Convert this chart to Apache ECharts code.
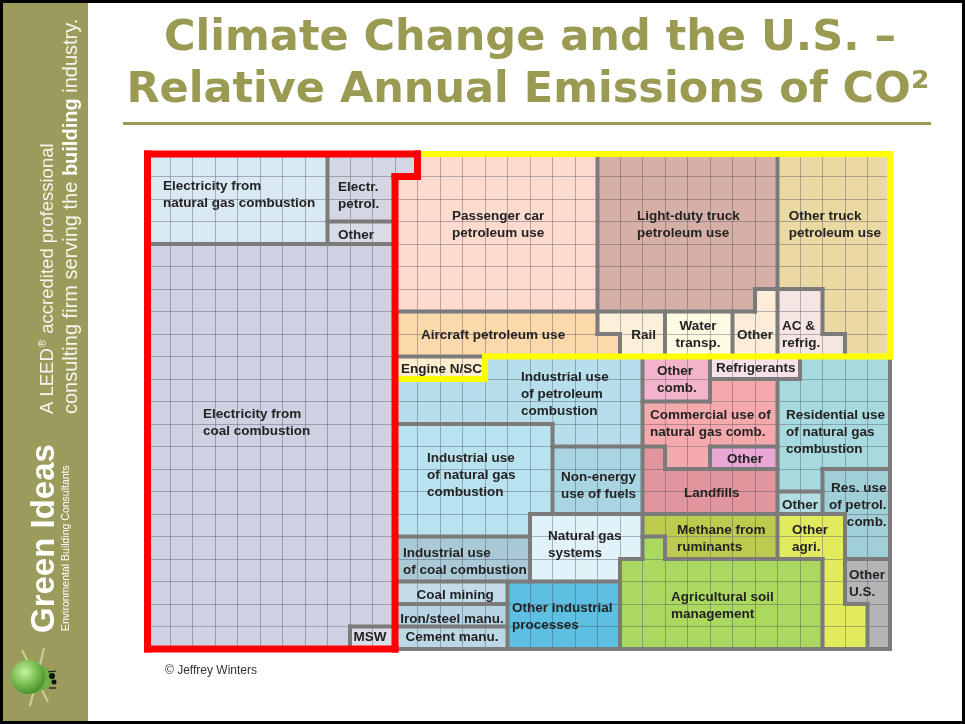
<!DOCTYPE html>
<html><head><meta charset="utf-8">
<script src="https://cdn.jsdelivr.net/npm/echarts@6/dist/echarts.min.js"></script>
<style>html,body{margin:0;padding:0;background:#fff}#c{width:965px;height:724px}</style>
</head><body><div id="c"></div>
<script>
// ---------- DATA ----------
const categories = [
  'Electricity from\nnatural gas combustion', 'Electr.\npetrol.', 'Other', 'Electricity from\ncoal combustion', 'MSW',
  'Passenger car\npetroleum use', 'Light-duty truck\npetroleum use', 'Other truck\npetroleum use', 'Aircraft petroleum use',
  'Engine N/SC', 'Rail', 'Water\ntransp.', 'Other', 'AC &\nrefrig.',
  'Industrial use\nof petroleum\ncombustion', 'Industrial use\nof natural gas\ncombustion', 'Non-energy\nuse of fuels',
  'Natural gas\nsystems', 'Industrial use\nof coal combustion', 'Coal mining', 'Iron/steel manu.', 'Cement manu.',
  'Other industrial\nprocesses', 'Other\ncomb.', 'Refrigerants', 'Commercial use of\nnatural gas comb.', 'Other',
  'Landfills', 'Residential use\nof natural gas\ncombustion', 'Other', 'Res. use\nof petrol.\ncomb.',
  'Methane from\nruminants', 'Other\nagri.', 'Agricultural soil\nmanagement', 'Other\nU.S.'
];
const groups = [
  'electricity','electricity','electricity','electricity','electricity',
  'transport','transport','transport','transport','transport','transport','transport','transport','transport',
  'other','other','other','other','other','other','other','other','other','other','other','other','other',
  'other','other','other','other','other','other','other','other'
];
// grid-cell blocks [col0,row0,col1,row1]; each cell = one equal unit of annual emissions
const cellBlocks = [
  [[0,0,8,4]],
  [[8,0,11,3],[11,0,12,1]],
  [[8,3,11,4]],
  [[0,4,11,21],[0,21,9,22]],
  [[9,21,11,22]],
  [[12,0,20,1],[11,1,20,7]],
  [[20,0,27,7],[27,0,28,6]],
  [[28,0,33,6],[30,6,33,8],[31,8,33,9]],
  [[11,7,20,9],[20,8,21,9]],
  [[11,9,15,10]],
  [[20,7,23,8],[21,8,23,9]],
  [[23,7,26,9]],
  [[27,6,28,7],[26,7,28,9]],
  [[28,6,30,9],[30,8,31,9]],
  [[11,10,15,12],[15,9,18,12],[18,9,22,13]],
  [[11,12,18,16],[11,16,17,17]],
  [[18,13,22,16]],
  [[17,16,22,18],[17,18,21,19]],
  [[11,17,17,19]],
  [[11,19,16,20]],
  [[11,20,16,21]],
  [[11,21,16,22]],
  [[16,19,21,22]],
  [[22,9,25,11]],
  [[25,9,29,10]],
  [[25,10,28,11],[22,11,28,13],[23,13,25,14]],
  [[25,13,28,14]],
  [[22,13,23,16],[23,14,28,16]],
  [[29,9,33,10],[28,10,33,14],[28,14,30,15]],
  [[28,15,30,16]],
  [[30,14,33,16],[31,16,33,18]],
  [[22,16,28,17],[23,17,28,18]],
  [[28,16,31,18],[30,18,31,20],[30,20,32,22]],
  [[22,17,23,18],[21,18,30,22]],
  [[31,18,33,20],[32,20,33,22]]
];
const GRID_COLS = 33, GRID_ROWS = 22;

// ---------- STYLE / LAYOUT ----------
const regionColors = [
  '#d9e9f3','#d3d7e3','#d8dce7','#ced1e1','#d8dce7',
  '#fcdacd','#d6b0a6','#ebd9a3','#fcd9ab','#fdeecf','#fdf0da','#fefbe3','#fcecd8','#f5e5e3',
  '#b6dfeb','#b9e2ef','#a9d5e3','#e1f2f8','#a8c9d5','#c3dcea','#b6d4e2','#bdd8e5','#5dbfe2',
  '#f2b3cb','#f8e1e9','#f6a9ac','#e9a7d5','#e1969d','#a7dadf','#b2dde2','#a0cfd7',
  '#bccb4e','#e2ea5e','#abd85f','#b5b5b8'
];
const labelAnchors = [
  [0.69,1.07],[8.47,1.11],[8.47,3.24],[2.47,11.2],[9.89,21.1],
  [13.53,2.4],[21.76,2.4],[28.5,2.4],[12.16,7.69],[11.27,9.18],[21.5,7.69],[24.47,7.29],[26.2,7.69],[28.2,7.29],
  [16.6,9.56],[12.42,13.16],[18.38,14.0],[17.8,16.6],[11.36,17.38],[13.67,19.22],[13.53,20.29],[13.53,21.1],
  [16.2,19.8],[22.64,9.29],[25.27,9.16],[22.33,11.24],[25.76,13.2],[23.84,14.7],[28.38,11.24],[28.2,15.24],
  [32.85,14.5],[23.53,16.36],[28.64,16.36],[23.27,19.33],[31.18,18.36]
];
const labelAlign = categories.map((c,i)=> (i===4||i===11||i===19||i===20||i===21) ? 'center' : (i===30 ? 'right' : 'left'));
const LABEL_FONT = 'bold 13.5px "Liberation Sans", Arial, sans-serif';
const OLIVE = '#9a9a52';

// ---------- BUILD ----------
const owner = new Array(GRID_COLS*GRID_ROWS).fill(-1);
cellBlocks.forEach((blocks,i)=>blocks.forEach(([c0,r0,c1,r1])=>{
  for(let c=c0;c<c1;c++) for(let r=r0;r<r1;r++) owner[r*GRID_COLS+c]=i;
}));
const own=(c,r)=> (c<0||r<0||c>=GRID_COLS||r>=GRID_ROWS) ? -1 : owner[r*GRID_COLS+c];
const grp=i=> i<0 ? 'none' : groups[i];
function kindOf(a,b){
  if(a===b) return null;
  const ga=grp(a), gb=grp(b);
  if(ga!==gb && (ga==='electricity'||gb==='electricity')) return 2;
  if(ga!==gb && (ga==='transport'||gb==='transport')) return 1;
  return 0;
}
const edges=[];
for(let c=0;c<=GRID_COLS;c++){
  let start=null, kind=null;
  for(let r=0;r<=GRID_ROWS;r++){
    const k = r<GRID_ROWS ? kindOf(own(c-1,r),own(c,r)) : null;
    if(k!==kind){ if(kind!==null) edges.push([c,start,c,r,kind]); start=r; kind=k; }
  }
}
for(let r=0;r<=GRID_ROWS;r++){
  let start=null, kind=null;
  for(let c=0;c<=GRID_COLS;c++){
    const k = c<GRID_COLS ? kindOf(own(c,r-1),own(c,r)) : null;
    if(k!==kind){ if(kind!==null) edges.push([start,r,c,r,kind]); start=c; kind=k; }
  }
}
edges.sort((a,b)=>a[4]-b[4]);
const cellData=[];
cellBlocks.forEach((blocks,i)=>blocks.forEach(b=>cellData.push([b[0],b[1],b[2],b[3],i])));
const labelData = labelAnchors.map((a,i)=>[a[0],a[1],i]);

const edgeStyle = [
  {stroke:'#7b7b7b', lineWidth:4},
  {stroke:'#ffff00', lineWidth:6},
  {stroke:'#ff0000', lineWidth:7}
];

const chart = echarts.init(document.getElementById('c'), null, {renderer:'canvas'});
chart.setOption({
  animation:false,
  backgroundColor:'#ffffff',
  grid:{left:147.5, top:154, width:742.5, height:495},
  xAxis:{type:'value', min:0, max:GRID_COLS, interval:1, z:3,
    axisLine:{show:false}, axisTick:{show:false}, axisLabel:{show:false},
    splitLine:{show:true, lineStyle:{color:'rgba(70,70,95,0.38)', width:1}}},
  yAxis:{type:'value', min:0, max:GRID_ROWS, interval:1, inverse:true, z:3,
    axisLine:{show:false}, axisTick:{show:false}, axisLabel:{show:false},
    splitLine:{show:true, lineStyle:{color:'rgba(70,70,95,0.38)', width:1}}},
  series:[
    {type:'custom', z:2, data:cellData, encode:{x:[0,2], y:[1,3]},
      renderItem:(p,api)=>{
        const a=api.coord([api.value(0),api.value(1)]), b=api.coord([api.value(2),api.value(3)]);
        return {type:'rect', shape:{x:Math.min(a[0],b[0]), y:Math.min(a[1],b[1]), width:Math.abs(b[0]-a[0]), height:Math.abs(b[1]-a[1])},
          style:{fill:regionColors[api.value(4)]}};
      }},
    {type:'custom', z:5, data:edges, encode:{x:[0,2], y:[1,3]},
      renderItem:(p,api)=>{
        const a=api.coord([api.value(0),api.value(1)]), b=api.coord([api.value(2),api.value(3)]);
        const s=edgeStyle[api.value(4)];
        return {type:'line', shape:{x1:a[0],y1:a[1],x2:b[0],y2:b[1]},
          style:{stroke:s.stroke, lineWidth:s.lineWidth, lineCap:'square'}};
      }},
    {type:'custom', z:6, data:labelData, encode:{x:0, y:1},
      renderItem:(p,api)=>{
        const i=api.value(2); const a=api.coord([api.value(0),api.value(1)]);
        return {type:'text', x:a[0], y:a[1],
          style:{text:categories[i], fill:'#232323', font:LABEL_FONT, align:labelAlign[i], verticalAlign:'top', lineHeight:17}};
      }}
  ],
  graphic:[
    {type:'rect', shape:{x:0,y:0,width:88,height:724}, style:{fill:'#9b9c5c'}, z:1},
    {type:'text', x:45, y:633, rotation:Math.PI/2, style:{text:'Green Ideas', font:'bold 33px "Liberation Sans", Arial', fill:'#ffffff', align:'left', verticalAlign:'middle'}, z:2},
    {type:'text', x:66, y:631, rotation:Math.PI/2, style:{text:'Environmental Building Consultants', font:'10.5px "Liberation Sans", Arial', fill:'#ffffff', align:'left', verticalAlign:'middle'}, z:2},
    {type:'text', x:48, y:414, rotation:Math.PI/2, style:{text:'A LEED{r|®} accredited professional', font:'18.5px "Liberation Sans", Arial', fill:'#f6f6ee', align:'left', verticalAlign:'middle',
      rich:{r:{font:'10px "Liberation Sans", Arial', fill:'#f6f6ee', verticalAlign:'top', padding:[0,1,8,1]}}}, z:2},
    {type:'text', x:71, y:414, rotation:Math.PI/2, style:{text:'consulting firm serving the {b|building} industry.', font:'20px "Liberation Sans", Arial', fill:'#f6f6ee', align:'left', verticalAlign:'middle',
      rich:{b:{font:'bold 20px "Liberation Sans", Arial', fill:'#ffffff'}}}, z:2},
    // bulb icon
    {type:'line', shape:{x1:22,y1:650,x2:48,y2:702}, style:{stroke:'rgba(205,225,170,0.8)', lineWidth:2}, z:2},
    {type:'line', shape:{x1:44,y1:648,x2:30,y2:706}, style:{stroke:'rgba(205,225,170,0.8)', lineWidth:2}, z:2},
    {type:'polygon', shape:{points:[[30,661],[46,667],[54,675],[54,682],[46,689],[30,694]]}, style:{fill:'#6fae45'}, z:3},
    {type:'circle', shape:{cx:28,cy:677,r:17}, style:{fill:{type:'radial',x:0.4,y:0.35,r:0.7,colorStops:[{offset:0,color:'#c9f0a4'},{offset:0.5,color:'#7fc255'},{offset:1,color:'#3f8a2a'}]}}, z:3},
    {type:'circle', shape:{cx:52,cy:676,r:3}, style:{fill:'#111'}, z:4},
    {type:'circle', shape:{cx:54,cy:682,r:2.5}, style:{fill:'#111'}, z:4},
    {type:'line', shape:{x1:48,y1:672,x2:56,y2:671}, style:{stroke:'#111', lineWidth:1.2}, z:4},
    {type:'line', shape:{x1:49,y1:688,x2:56,y2:688}, style:{stroke:'#111', lineWidth:1.2}, z:4},
    // title
    {type:'text', x:530, y:39, style:{text:'Climate Change and the U.S. –', font:'bold 43px "DejaVu Sans", Verdana, sans-serif', fill:OLIVE, align:'center', verticalAlign:'middle'}, z:2},
    {type:'text', x:528, y:91, style:{text:'Relative Annual Emissions of CO²', font:'bold 43px "DejaVu Sans", Verdana, sans-serif', fill:OLIVE, align:'center', verticalAlign:'middle'}, z:2},
    {type:'rect', shape:{x:123,y:122,width:808,height:3}, style:{fill:OLIVE}, z:2},
    {type:'text', x:165, y:671, style:{text:'© Jeffrey Winters', font:'12px "Liberation Sans", Arial', fill:'#333333', align:'left', verticalAlign:'middle'}, z:2},
    // slide border
    {type:'rect', shape:{x:1.5,y:1.5,width:962,height:721}, style:{fill:null, stroke:'#000000', lineWidth:3}, z:10}
  ]
});
</script></body></html>
